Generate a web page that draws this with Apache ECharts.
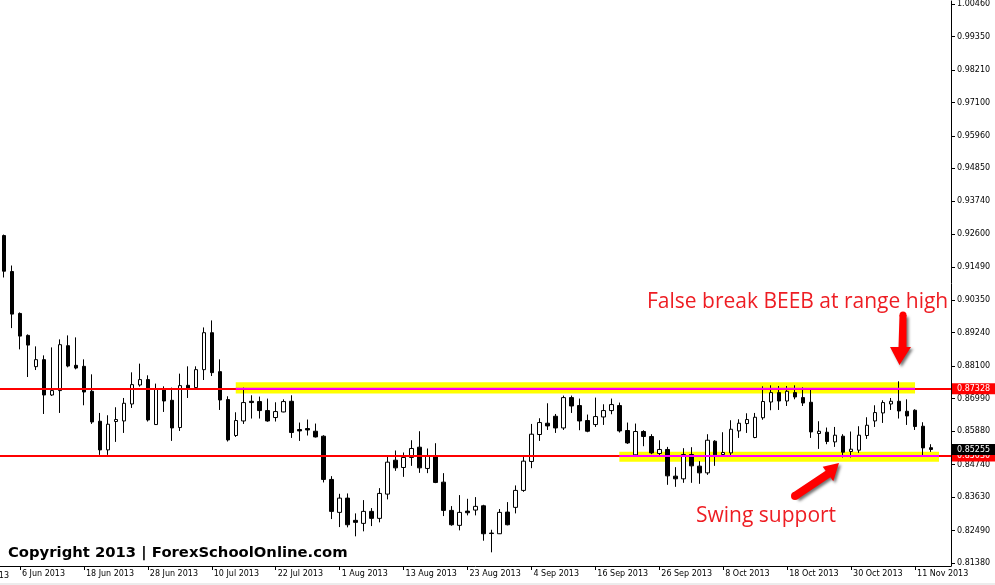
<!DOCTYPE html>
<html><head><meta charset="utf-8">
<script src="https://cdn.jsdelivr.net/npm/echarts@6/dist/echarts.min.js"></script>
<style>html,body{margin:0;padding:0;background:#fff}#c{width:995px;height:585px}</style>
</head><body><div id="c"></div>
<script>
// Trading days (weekdays) 4 Jun 2013 .. 13 Nov 2013, plus two empty slots (chart shift)
const categories = [
'4 Jun 2013','5 Jun 2013','6 Jun 2013','7 Jun 2013','10 Jun 2013','11 Jun 2013','12 Jun 2013','13 Jun 2013','14 Jun 2013','17 Jun 2013','18 Jun 2013','19 Jun 2013','20 Jun 2013','21 Jun 2013','24 Jun 2013','25 Jun 2013','26 Jun 2013','27 Jun 2013','28 Jun 2013',
'1 Jul 2013','2 Jul 2013','3 Jul 2013','4 Jul 2013','5 Jul 2013','8 Jul 2013','9 Jul 2013','10 Jul 2013','11 Jul 2013','12 Jul 2013','15 Jul 2013','16 Jul 2013','17 Jul 2013','18 Jul 2013','19 Jul 2013','22 Jul 2013','23 Jul 2013','24 Jul 2013','25 Jul 2013','26 Jul 2013','29 Jul 2013','30 Jul 2013','31 Jul 2013',
'1 Aug 2013','2 Aug 2013','5 Aug 2013','6 Aug 2013','7 Aug 2013','8 Aug 2013','9 Aug 2013','12 Aug 2013','13 Aug 2013','14 Aug 2013','15 Aug 2013','16 Aug 2013','19 Aug 2013','20 Aug 2013','21 Aug 2013','22 Aug 2013','23 Aug 2013','26 Aug 2013','27 Aug 2013','28 Aug 2013','29 Aug 2013','30 Aug 2013',
'2 Sep 2013','3 Sep 2013','4 Sep 2013','5 Sep 2013','6 Sep 2013','9 Sep 2013','10 Sep 2013','11 Sep 2013','12 Sep 2013','13 Sep 2013','16 Sep 2013','17 Sep 2013','18 Sep 2013','19 Sep 2013','20 Sep 2013','23 Sep 2013','24 Sep 2013','25 Sep 2013','26 Sep 2013','27 Sep 2013','30 Sep 2013',
'1 Oct 2013','2 Oct 2013','3 Oct 2013','4 Oct 2013','7 Oct 2013','8 Oct 2013','9 Oct 2013','10 Oct 2013','11 Oct 2013','14 Oct 2013','15 Oct 2013','16 Oct 2013','17 Oct 2013','18 Oct 2013','21 Oct 2013','22 Oct 2013','23 Oct 2013','24 Oct 2013','25 Oct 2013','28 Oct 2013','29 Oct 2013','30 Oct 2013','31 Oct 2013',
'1 Nov 2013','4 Nov 2013','5 Nov 2013','6 Nov 2013','7 Nov 2013','8 Nov 2013','11 Nov 2013','12 Nov 2013','13 Nov 2013','14 Nov 2013','15 Nov 2013'];

const opens = [0.92556,0.91329,0.89898,0.89149,0.88082,0.88321,0.87115,0.87265,0.88798,0.88127,
0.88093,0.87241,0.86219,0.85241,0.86209,0.86229,0.86808,0.87456,0.87640,0.86106,
0.87309,0.86934,0.86004,0.87445,0.87367,0.87980,0.89241,0.87912,0.86958,0.85732,
0.86229,0.86900,0.86890,0.86583,0.86345,0.86536,0.86900,0.85936,0.85970,0.85878,
0.85708,0.84232,0.83108,0.83595,0.82836,0.82733,0.83142,0.82904,0.83732,0.84890,
0.84641,0.84982,0.85333,0.84607,0.85037,0.84140,0.83176,0.82665,0.83152,0.83187,
0.83333,0.82403,0.82379,0.83118,0.83279,0.83858,0.84846,0.85766,0.86151,0.86389,
0.85990,0.87026,0.86754,0.86243,0.86106,0.86365,0.86583,0.86754,0.85902,0.85071,
0.85868,0.85698,0.85118,0.85255,0.84345,0.84253,0.85084,0.84686,0.84457,0.85537,
0.85084,0.85139,0.85888,0.86140,0.85663,0.86338,0.86876,0.87197,0.86910,0.87197,
0.87026,0.86866,0.85800,0.85844,0.85514,0.85708,0.85186,0.85231,0.85732,0.86229,
0.86502,0.86808,0.86900,0.86559,0.86594,0.86048,0.85316];

const closes = [0.91340,0.89875,0.89125,0.88818,0.88321,0.87115,0.87265,0.88832,0.88103,0.88035,
0.87217,0.86195,0.85241,0.86117,0.86277,0.86832,0.87469,0.87640,0.86263,0.87309,
0.86910,0.85990,0.87435,0.87333,0.87980,0.89241,0.87878,0.86945,0.85582,0.86243,
0.86856,0.86856,0.86583,0.86229,0.86549,0.86890,0.85834,0.85888,0.85922,0.85684,
0.84232,0.83142,0.83595,0.82686,0.82768,0.83142,0.82904,0.83755,0.84822,0.84628,
0.84982,0.85289,0.84628,0.85050,0.84130,0.83176,0.82686,0.83108,0.83095,0.83313,
0.82379,0.82386,0.83108,0.82686,0.83858,0.84856,0.85776,0.86174,0.86059,0.85990,
0.87026,0.86740,0.86229,0.85878,0.86379,0.86583,0.86788,0.85888,0.85479,0.85868,
0.85698,0.85139,0.85255,0.84355,0.84253,0.85084,0.84696,0.84457,0.85571,0.85071,
0.85152,0.85946,0.86151,0.86277,0.86355,0.86893,0.87197,0.86910,0.87241,0.87047,
0.86842,0.85854,0.85878,0.85527,0.85742,0.85163,0.85265,0.85742,0.86082,0.86515,
0.86856,0.86900,0.86570,0.86399,0.86038,0.85309,0.85255];

const highs = [0.92590,0.91534,0.89932,0.89183,0.88774,0.88467,0.88740,0.89013,0.89149,0.89081,
0.88331,0.87820,0.86502,0.86423,0.86696,0.87013,0.87888,0.88185,0.87786,0.87503,
0.87411,0.87367,0.87844,0.88093,0.88093,0.89421,0.89660,0.88331,0.87071,0.86525,
0.87367,0.87105,0.87060,0.86992,0.86866,0.86968,0.87105,0.86174,0.86277,0.86140,
0.85742,0.84345,0.83742,0.83755,0.83074,0.83527,0.83255,0.83936,0.85026,0.85220,
0.85152,0.85571,0.85878,0.85289,0.85469,0.84447,0.83323,0.83698,0.83572,0.83629,
0.83367,0.82515,0.83221,0.83459,0.84028,0.85002,0.86127,0.86321,0.86832,0.86467,
0.87094,0.87094,0.86992,0.86447,0.87026,0.86798,0.86992,0.86856,0.86174,0.86140,
0.85912,0.85776,0.85571,0.85343,0.84652,0.85299,0.85333,0.84856,0.85776,0.85571,
0.85844,0.86253,0.86287,0.86491,0.86502,0.87411,0.87445,0.87421,0.87421,0.87445,
0.87377,0.87309,0.86219,0.86004,0.86024,0.85776,0.85868,0.86048,0.86355,0.86764,
0.86934,0.87013,0.87582,0.86968,0.86628,0.86185,0.85435];

const lows = [0.91125,0.89398,0.88672,0.87728,0.87967,0.86467,0.87081,0.86502,0.88059,0.87990,
0.86764,0.86127,0.85071,0.85071,0.85514,0.85820,0.86672,0.87401,0.86209,0.86093,
0.86536,0.85548,0.85888,0.87013,0.87285,0.87626,0.87762,0.86604,0.85527,0.85684,
0.86127,0.86311,0.86311,0.86202,0.86209,0.86525,0.85650,0.85548,0.85732,0.85663,
0.84130,0.82880,0.82607,0.82597,0.82291,0.82461,0.82641,0.82768,0.83551,0.84526,
0.84321,0.84696,0.84457,0.84447,0.84106,0.82982,0.82652,0.82495,0.83006,0.83006,
0.82141,0.81745,0.82369,0.82665,0.83074,0.83810,0.84617,0.85548,0.85922,0.85820,
0.85922,0.86502,0.85912,0.85844,0.86024,0.86093,0.86457,0.85834,0.85445,0.85043,
0.85367,0.85094,0.85060,0.84049,0.83980,0.84117,0.84117,0.84083,0.84389,0.84696,
0.85060,0.85050,0.85650,0.85820,0.85640,0.86270,0.86594,0.86604,0.86740,0.86968,
0.86740,0.85650,0.85275,0.85435,0.85343,0.84982,0.84982,0.85139,0.85616,0.86024,
0.86161,0.86604,0.86311,0.86093,0.85922,0.85037,0.85173];

const yTickValues = [0.81380,0.82490,0.83630,0.84740,0.85880,0.86990,0.88100,0.89240,0.90350,
0.91490,0.92600,0.93740,0.94850,0.95960,0.97100,0.98210,0.99350,1.00460];
const xTickLabels = ['6 Jun 2013','18 Jun 2013','28 Jun 2013','10 Jul 2013','22 Jul 2013','1 Aug 2013',
'13 Aug 2013','23 Aug 2013','4 Sep 2013','16 Sep 2013','26 Sep 2013','8 Oct 2013','18 Oct 2013','30 Oct 2013','11 Nov 2013'];

const rangeHigh = 0.87328;
const rangeLow = 0.85030;
const lastPrice = 0.85255;
// yellow zones: [fromIndex, toIndex, topPrice, bottomPrice]
const upperZone = [29, 114, 0.87550, 0.87165];
const lowerZone = [77, 117, 0.85180, 0.84840];

const candleData = opens.map((o, i) => [o, closes[i], lows[i], highs[i]]);

const chart = echarts.init(document.getElementById('c'), null, {renderer: 'canvas'});
const axisFont = 'DejaVu Sans';
const priceLabel = (txt, bg) => ({
  show: true, position: 'end', distance: 1, formatter: txt,
  color: '#fff', backgroundColor: bg, fontFamily: axisFont, fontSize: 8,
  lineHeight: 10, padding: [1, 8, 0, 5], opacity: 1
});
const zoneLine = (zone, level) => ({
  type: 'line', z: 10, clip: false, silent: true, symbol: 'none', showSymbol: false,
  lineStyle: {color: '#ff00ff', width: 2, type: 'solid'},
  data: [[zone[0], level], [zone[1], level]]
});

chart.setOption({
  animation: false,
  backgroundColor: '#ffffff',
  grid: {left: -1, right: 44, top: 0, bottom: 19, containLabel: false},
  xAxis: {
    type: 'category', data: categories, boundaryGap: true,
    axisLine: {show: true, lineStyle: {color: '#000', width: 1}},
    axisTick: {show: true, alignWithLabel: true, length: 4, lineStyle: {color: '#000'},
      interval: (i, v) => xTickLabels.includes(v)},
    axisLabel: {show: true, interval: (i, v) => xTickLabels.includes(v), align: 'left',
      padding: [0, 0, 0, 2], margin: 4, fontFamily: axisFont, fontSize: 8, color: '#000'},
    splitLine: {show: false}
  },
  yAxis: {
    type: 'value', position: 'right', scale: true, min: 0.81278, max: 1.00562,
    axisLine: {show: true, lineStyle: {color: '#000', width: 1}},
    axisTick: {show: true, length: 4, lineStyle: {color: '#000'}, customValues: yTickValues},
    axisLabel: {show: true, customValues: yTickValues, formatter: v => v.toFixed(5),
      margin: 6, fontFamily: axisFont, fontSize: 8, color: '#000'},
    splitLine: {show: false}
  },
  series: [
    {
      type: 'line', data: [], z: 1, silent: true,
      markArea: {
        silent: true, z: 1,
        itemStyle: {color: '#ffff00', opacity: 1},
        data: [
          [{coord: [upperZone[0], upperZone[2]]}, {coord: [upperZone[1], upperZone[3]]}],
          [{coord: [lowerZone[0], lowerZone[2]]}, {coord: [lowerZone[1], lowerZone[3]]}]
        ]
      }
    },
    {
      type: 'candlestick', z: 2, data: candleData, barWidth: 4, silent: true,
      itemStyle: {color: '#ffffff', color0: '#000000', borderColor: '#000000',
        borderColor0: '#000000', borderColorDoji: '#000000', borderWidth: 1}
    },
    {
      type: 'line', data: [], z: 3, clip: false, silent: true,
      markLine: {
        silent: true, z: 5, symbol: ['none', 'none'], animation: false, precision: 5,
        data: [
          {yAxis: rangeHigh, lineStyle: {color: '#ff0000', width: 2, type: 'solid'},
            label: priceLabel(rangeHigh.toFixed(5), '#ff0000')},
          {yAxis: rangeLow, lineStyle: {color: '#ff0000', width: 2, type: 'solid'},
            label: priceLabel(rangeLow.toFixed(5), '#ff0000')},
          {yAxis: lastPrice, lineStyle: {color: 'rgba(0,0,0,0)', width: 1, type: 'solid'},
            label: priceLabel(lastPrice.toFixed(5), '#000000')}
        ]
      }
    },
    zoneLine(upperZone, rangeHigh),
    zoneLine(lowerZone, rangeLow)
  ],
  graphic: [
    {type: 'rect', shape: {x: 0, y: 583, width: 995, height: 2}, style: {fill: '#ececec'}, silent: true},
    {type: 'text', x: 9, y: 576, style: {text: '27 May 2013', fontFamily: axisFont, fontSize: 8, fill: '#000',
      textAlign: 'right', textVerticalAlign: 'middle'}, silent: true},
    {type: 'text', x: 8, y: 553, style: {text: 'Copyright 2013 | ForexSchoolOnline.com',
      fontFamily: 'DejaVu Sans', fontWeight: 'bold', fontSize: 14.8, fill: '#000',
      textAlign: 'left', textVerticalAlign: 'middle'}, silent: true},
    {type: 'text', x: 647, y: 302, style: {text: 'False break BEEB at range high',
      fontFamily: 'Open Sans', fontSize: 21, fill: '#ee1d23', textAlign: 'left', textVerticalAlign: 'middle'}, silent: true},
    {type: 'text', x: 696, y: 516.5, style: {text: 'Swing support',
      fontFamily: 'Open Sans', fontSize: 21, fill: '#ee1d23', textAlign: 'left', textVerticalAlign: 'middle'}, silent: true},
    {type: 'group', silent: true, children: [
      {type: 'polygon', shape: {points: [[899.5,315],[898.5,347],[890,347],[899.5,365],[911,347],[906.5,347],[906.5,315]]},
        style: {fill: '#ff0000', shadowBlur: 3, shadowColor: 'rgba(0,0,0,0.55)', shadowOffsetX: 2, shadowOffsetY: 2}},
      {type: 'circle', shape: {cx: 903, cy: 315, r: 3.5}, style: {fill: '#ff0000'}},
      {type: 'polygon', shape: {points: [[792.6,492.8],[825.6,470.8],[822.7,466.7],[839,463],[833.3,481.3],[830.4,477.2],[797.4,499.2]]},
        style: {fill: '#ff0000', shadowBlur: 3, shadowColor: 'rgba(0,0,0,0.55)', shadowOffsetX: 2, shadowOffsetY: 2}},
      {type: 'circle', shape: {cx: 795, cy: 496, r: 4}, style: {fill: '#ff0000'}}
    ]}
  ]
});
</script>
</body></html>
